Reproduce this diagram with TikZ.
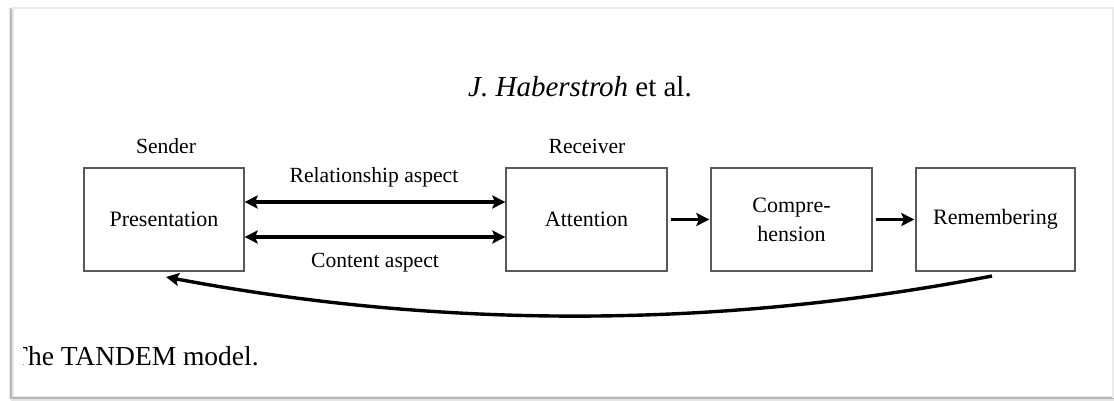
\documentclass[tikz,border=0pt]{standalone}
\usepackage{fontspec}
\setmainfont{Liberation Serif}
\usetikzlibrary{arrows.meta}
\begin{document}
\begin{tikzpicture}[x=1pt,y=-1pt,
  box/.style={draw=black!65, line width=1.3pt, minimum width=160pt, minimum height=103pt, inner sep=0pt, font=\fontsize{22}{29}\selectfont, align=center},
  lbl/.style={font=\fontsize{21.6}{26}\selectfont, inner sep=0pt},
  tip/.tip={Stealth[length=13pt,width=13pt,inset=2.5pt]},
  conn/.style={line width=3.4pt, -tip},
  dconn/.style={line width=3.4pt, tip-tip},
  framegray/.style={line width=2pt, black!28},
]
\useasboundingbox (0,0) rectangle (1114,401);
\fill[white] (0,0) rectangle (1114,401);
% page frame
\draw[black!10, line width=5pt] (11,8) -- (11,398);
\draw[black!10, line width=5pt] (11,398) -- (1114,398);
\draw[framegray] (11,8) -- (11,398) -- (1114,398);
\draw[black!8, line width=1.5pt] (11,8) -- (1114,8);
\draw[black!8, line width=1.5pt] (1113,8) -- (1113,398);
% heading
\node[anchor=base, font=\fontsize{29}{34}\selectfont, inner sep=0pt] (head) at (580,97) {\textit{J. Haberstroh} et al.};
% boxes
\node[box] (pres) at (164,219.5) {Presentation};
\node[box, minimum width=161pt] (att) at (586.5,219.5) {Attention};
\node[box, minimum width=161pt] (comp) at (791.5,219.5) {Compre-\\hension};
\node[box, minimum width=159pt] (rem) at (995.5,219.5) {Remembering};
% labels
\node[lbl] (sender) at (166,146) {Sender};
\node[lbl] (receiver) at (587,146) {Receiver};
\node[lbl] (rel) at (374,177) {Relationship aspect};
\node[lbl] (cont) at (375,263) {Content aspect};
% connectors
\draw[dconn] ([yshift=17.5pt]pres.east) -- ([yshift=17.5pt]att.west);
\draw[dconn] ([yshift=-17.5pt]pres.east) -- ([yshift=-17.5pt]att.west);
\draw[conn] ([xshift=3pt]att.east) -- ([xshift=-1pt]comp.west);
\draw[conn] ([xshift=3pt]comp.east) -- ([xshift=-1pt]rem.west);
\coordinate (cs) at (992,276);
\coordinate (ce) at (166,277);
\draw[conn] (cs) .. controls (717,329) and (442,329) .. (ce);
% caption (left edge cut off)
\begin{scope}
\clip (23,320) rectangle (500,390);
\node[anchor=base west, font=\fontsize{27.5}{32}\selectfont, inner sep=0pt] (cap) at (11,365) {The TANDEM model.};
\end{scope}
\end{tikzpicture}
\end{document}
